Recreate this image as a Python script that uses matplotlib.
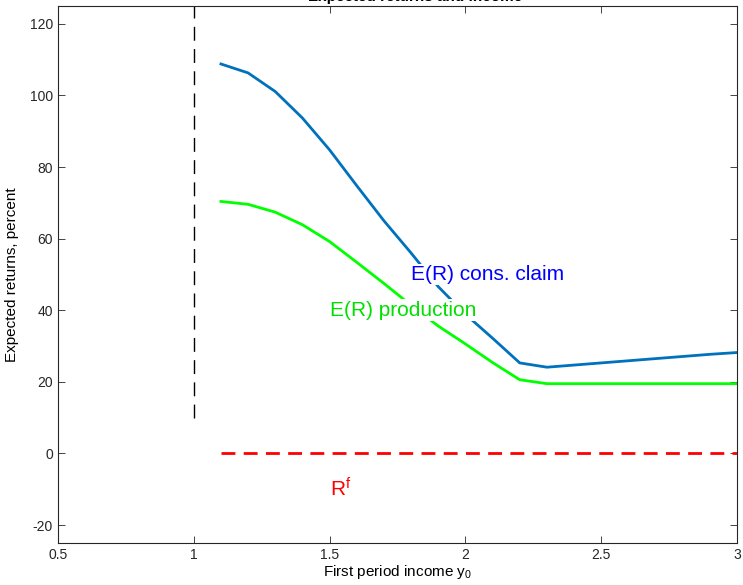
import matplotlib
matplotlib.use("Agg")
from matplotlib import pyplot as plt
import numpy as np

plt.rcParams['font.family'] = ['Liberation Sans', 'DejaVu Sans']
plt.rcParams['mathtext.fontset'] = 'custom'
plt.rcParams['mathtext.rm'] = 'Liberation Sans'
plt.rcParams['axes.unicode_minus'] = False

# income grid and expected returns (percent)
y0 = [1.1, 1.2, 1.3, 1.4, 1.5, 1.6, 1.7, 1.8, 1.9, 2.0,
      2.1, 2.2, 2.3, 2.4, 2.5, 2.6, 2.7, 2.8, 2.9, 3.0]
er_claim = [108.8, 106.3, 101.1, 93.7, 84.8, 74.8, 65.0, 56.0, 46.6, 38.9,
            32.2, 25.3, 24.1, 24.7, 25.3, 25.9, 26.5, 27.1, 27.7, 28.2]
er_prod = [70.4, 69.6, 67.4, 63.9, 59.2, 53.4, 47.5, 41.4, 35.6, 30.6,
           25.4, 20.6, 19.5, 19.5, 19.5, 19.5, 19.5, 19.5, 19.5, 19.5]
rf = [0.0] * len(y0)
cutoff_x = [1.0, 1.0]
cutoff_y = [10, 130]

xticks = [0.5, 1, 1.5, 2, 2.5, 3]
yticks = [-20, 0, 20, 40, 60, 80, 100, 120]

fig = plt.figure(figsize=(7.43, 5.85), dpi=100)
ax = fig.add_axes([0.078, 0.0718, 0.914, 0.918])

ax.plot(cutoff_x, cutoff_y, color='k', lw=1.0, dashes=(10, 6))
ax.plot(y0, er_claim, color='#0072BD', lw=2.0)
ax.plot(y0, er_prod, color='#00FF00', lw=2.0)
ax.plot(y0, rf, color='#FF0000', lw=2.0, dashes=(5, 3))

box = dict(facecolor='white', edgecolor='none', pad=1)
ax.text(1.8, 50, 'E(R) cons. claim', color='#0000FF', fontsize=15,
        ha='left', va='center', bbox=box)
ax.text(1.5, 40, 'E(R) production', color='#00E000', fontsize=15,
        ha='left', va='center', bbox=box)
ax.text(1.5, -10, r'$\mathregular{R^f}$', color='#FF0000', fontsize=15,
        ha='left', va='center')

ax.set_xlim(0.5, 3)
ax.set_ylim(-25, 125)
ax.set_xticks(xticks)
ax.set_xticklabels(['0.5', '1', '1.5', '2', '2.5', '3'])
ax.set_yticks(yticks)
ax.tick_params(direction='in', top=True, right=True, length=5, width=0.6,
               labelsize=10, colors='#262626')
for s in ax.spines.values():
    s.set_color('#262626')
    s.set_linewidth(0.8)

ax.set_xlabel(r'First period income $\mathregular{y_0}$', fontsize=11, labelpad=1)
ax.set_ylabel('Expected returns, percent', fontsize=11, labelpad=8)

# title sits mostly above the canvas, as in the source figure
fig.text(0.5585, 1 - 1.0 / 585, 'Expected returns and income', ha='center',
         va='baseline', fontsize=11, fontweight='bold')

fig.savefig('out.png', dpi=100)
